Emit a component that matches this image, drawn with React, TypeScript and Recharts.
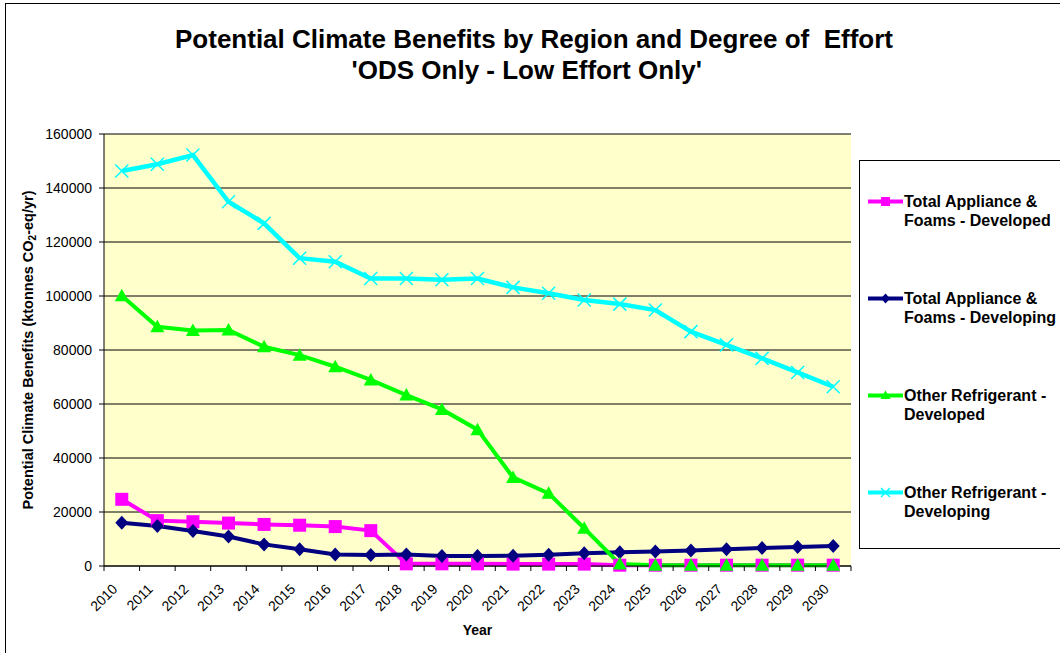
import { LineChart, Line, XAxis, YAxis, CartesianGrid } from "recharts";

const FONT = "'Liberation Sans', Arial, Helvetica, sans-serif";

const years = [
  "2010", "2011", "2012", "2013", "2014", "2015", "2016", "2017", "2018", "2019", "2020",
  "2021", "2022", "2023", "2024", "2025", "2026", "2027", "2028", "2029", "2030",
];

// ktonnes CO2-eq/yr
const applianceDeveloped = [
  24700, 16800, 16400, 15900, 15400, 15100, 14600, 13100, 800, 800, 800,
  700, 700, 700, 300, 300, 300, 300, 300, 300, 300,
];
const applianceDeveloping = [
  16000, 14800, 13000, 10900, 8000, 6200, 4300, 4100, 4300, 3700, 3700,
  3800, 4200, 4700, 5100, 5400, 5700, 6200, 6700, 7000, 7400,
];
const refrigerantDeveloped = [
  100100, 88600, 87200, 87400, 81200, 78100, 73800, 68900, 63300, 58000, 50500,
  32800, 26900, 14000, 700, 300, 300, 300, 300, 300, 300,
];
const refrigerantDeveloping = [
  146300, 148800, 152200, 134900, 126900, 114000, 112700, 106500, 106500, 106000, 106500,
  103200, 101000, 98500, 97000, 94800, 86800, 81900, 76900, 71700, 66400,
];

const yTicks = [0, 20000, 40000, 60000, 80000, 100000, 120000, 140000, 160000];

type Shape = "square" | "diamond" | "triangle" | "cross";

const series: { key: string; name: string; color: string; shape: Shape; width: number; values: number[] }[] = [
  { key: "appDev", name: "Total Appliance & Foams - Developed", color: "#FF00FF", shape: "square", width: 4, values: applianceDeveloped },
  { key: "appDevg", name: "Total Appliance & Foams - Developing", color: "#000080", shape: "diamond", width: 4, values: applianceDeveloping },
  { key: "refDev", name: "Other Refrigerant - Developed", color: "#00FF00", shape: "triangle", width: 4, values: refrigerantDeveloped },
  { key: "refDevg", name: "Other Refrigerant - Developing", color: "#00FFFF", shape: "cross", width: 4.5, values: refrigerantDeveloping },
];

const rows = years.map((year, i) => {
  const row: Record<string, string | number> = { year };
  series.forEach((s) => (row[s.key] = s.values[i]));
  return row;
});

function Marker({ shape, cx, cy, r, color }: { shape: Shape; cx: number; cy: number; r: number; color: string }) {
  if (shape === "square") {
    return <rect x={cx - r} y={cy - r} width={r * 2} height={r * 2} fill={color} />;
  }
  if (shape === "diamond") {
    return <polygon points={`${cx},${cy - r - 0.5} ${cx + r},${cy} ${cx},${cy + r + 0.5} ${cx - r},${cy}`} fill={color} />;
  }
  if (shape === "triangle") {
    return <polygon points={`${cx},${cy - r - 0.5} ${cx + r + 0.5},${cy + r - 1} ${cx - r - 0.5},${cy + r - 1}`} fill={color} />;
  }
  return (
    <g stroke={color} strokeWidth={1.5}>
      <line x1={cx - r} y1={cy - r} x2={cx + r} y2={cy + r} />
      <line x1={cx - r} y1={cy + r} x2={cx + r} y2={cy - r} />
    </g>
  );
}

function makeDot(shape: Shape, color: string) {
  return (p: any) => {
    if (p.cx == null || p.cy == null) return <g key={p.key} />;
    return (
      <g key={p.key}>
        <Marker shape={shape} cx={p.cx} cy={p.cy} r={6.5} color={color} />
      </g>
    );
  };
}

function YearTick(props: any) {
  const { x, y, payload, index } = props;
  const half = payload.offset ?? 0;
  const last = index === years.length - 1;
  return (
    <g>
      <line x1={x - half} x2={x - half} y1={y} y2={y + 5} stroke="#000" />
      {last && <line x1={x + half} x2={x + half} y1={y} y2={y + 5} stroke="#000" />}
      <text
        transform={`translate(${x - 3.5},${y + 24}) rotate(-45)`}
        textAnchor="end"
        fontFamily={FONT}
        fontSize={14}
        fill="#000"
      >
        {payload.value}
      </text>
    </g>
  );
}

function YTitle({ viewBox }: any) {
  const x = viewBox.x - 11;
  const cy = viewBox.y + viewBox.height / 2;
  return (
    <text
      x={x}
      y={cy}
      transform={`rotate(-90 ${x} ${cy})`}
      textAnchor="middle"
      fontFamily={FONT}
      fontWeight="bold"
      fontSize={14.5}
      fill="#000"
    >
      Potential Climate Benefits (ktonnes CO
      <tspan fontSize={10} dy={3}>2</tspan>
      <tspan dy={-3}>-eq/yr)</tspan>
    </text>
  );
}

function XTitle({ viewBox }: any) {
  return (
    <text
      x={viewBox.x + viewBox.width / 2}
      y={viewBox.y + 69}
      textAnchor="middle"
      fontFamily={FONT}
      fontWeight="bold"
      fontSize={14}
      fill="#000"
    >
      Year
    </text>
  );
}

function LegendBox() {
  return (
    <div
      style={{
        position: "absolute",
        left: 859,
        top: 160,
        width: 260,
        height: 389,
        borderTop: "1px solid #000",
        borderLeft: "1px solid #000",
        borderBottom: "1px solid #000",
        boxSizing: "border-box",
        background: "#fff",
        fontFamily: FONT,
      }}
    >
      {series.map((s, i) => (
        <div key={s.key} style={{ position: "absolute", left: 7, top: 31 + i * 97, display: "flex" }}>
          <svg width={37} height={19} style={{ display: "block", flex: "none" }}>
            <line x1={1} x2={36} y1={9.5} y2={9.5} stroke={s.color} strokeWidth={4} />
            <Marker shape={s.shape} cx={18.5} cy={9.5} r={4.5} color={s.color} />
          </svg>
          <div style={{ width: 158, fontSize: 16, lineHeight: "19px", fontWeight: "bold", color: "#000" }}>
            {s.name}
          </div>
        </div>
      ))}
    </div>
  );
}

export default function App() {
  return (
    <div
      style={{
        position: "absolute",
        left: 0,
        top: 0,
        width: 1060,
        height: 653,
        overflow: "hidden",
        background: "#fff",
        fontFamily: FONT,
      }}
    >
      <div
        style={{
          position: "absolute",
          left: 5,
          top: 3,
          width: 1100,
          height: 700,
          borderTop: "1px solid #000",
          borderLeft: "1px solid #000",
        }}
      />
      <div
        style={{
          position: "absolute",
          left: 0,
          top: 0,
          width: 1068,
          textAlign: "center",
          fontWeight: "bold",
          fontSize: 26,
          lineHeight: "31px",
          paddingTop: 24,
          color: "#000",
          whiteSpace: "pre",
        }}
      >
        {"Potential Climate Benefits by Region and Degree of  Effort\n'ODS Only - Low Effort Only'  "}
      </div>
      <div style={{ position: "absolute", left: 0, top: 0 }}>
        <LineChart width={1060} height={653} data={rows} margin={{ top: 134, right: 209, bottom: 0, left: 44 }}>
          <CartesianGrid vertical={false} stroke="#000" fill="#FFFFCC" fillOpacity={1} />
          <XAxis
            dataKey="year"
            scale="band"
            interval={0}
            height={87}
            tickSize={0}
            tickMargin={0}
            tickLine={false}
            axisLine={{ stroke: "#000" }}
            tick={<YearTick />}
            label={<XTitle />}
          />
          <YAxis
            domain={[0, 160000]}
            ticks={yTicks}
            interval={0}
            width={60}
            tickSize={5}
            tickMargin={7}
            axisLine={{ stroke: "#000" }}
            tickLine={{ stroke: "#000" }}
            tick={{ fill: "#000", fontSize: 14, fontFamily: FONT }}
            label={<YTitle />}
          />
          <YAxis yAxisId="frame" orientation="right" width={0} tick={false} tickLine={false} axisLine={{ stroke: "#808080" }} />
          {series.map((s) => (
            <Line
              key={s.key}
              dataKey={s.key}
              name={s.name}
              stroke={s.color}
              strokeWidth={s.width}
              dot={makeDot(s.shape, s.color)}
              activeDot={false}
              isAnimationActive={false}
            />
          ))}
        </LineChart>
      </div>
      <LegendBox />
    </div>
  );
}
